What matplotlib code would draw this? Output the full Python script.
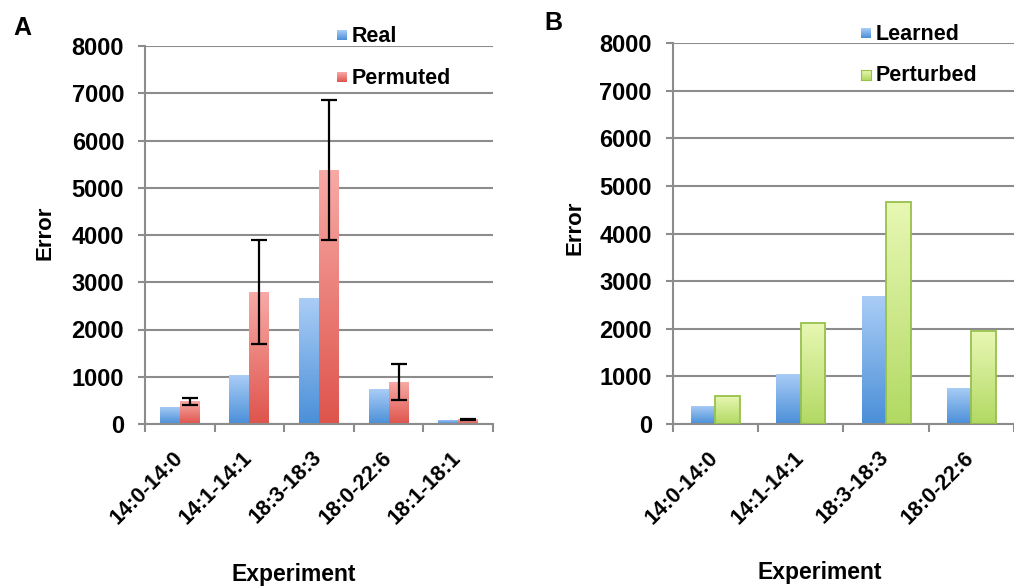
import numpy as np
import matplotlib
matplotlib.use("Agg")
from matplotlib import pyplot as plt
from matplotlib.colors import LinearSegmentedColormap

plt.rcParams['font.family'] = ['Liberation Sans', 'DejaVu Sans']
plt.rcParams['font.weight'] = 'bold'

# panel A data
experimentsA = ["14:0-14:0", "14:1-14:1", "18:3-18:3", "18:0-22:6", "18:1-18:1"]
real = [366, 1037, 2660, 734, 85]
permuted = [480, 2787, 5382, 882, 99]
permutedErr = [80, 1100, 1480, 380, 10]

# panel B data
experimentsB = ["14:0-14:0", "14:1-14:1", "18:3-18:3", "18:0-22:6"]
learned = [384, 1057, 2689, 763]
perturbed = [595, 2128, 4670, 1954]

yTicks = [0, 1000, 2000, 3000, 4000, 5000, 6000, 7000, 8000]

W, H = 1014, 586
GRAY = "#8c8c8c"
blueMap = LinearSegmentedColormap.from_list("blue", ["#4a8fd8", "#aacdf6"])
redMap = LinearSegmentedColormap.from_list("red", ["#de544c", "#f8aaa6"])
greenMap = LinearSegmentedColormap.from_list("green", ["#b2d963", "#e8f8b4"])


def gradientBars(ax, x, heights, width, cmap, edge="none"):
    bars = ax.bar(x, heights, width, color="none", edgecolor=edge,
                  linewidth=1.3 if edge != "none" else 0, zorder=3)
    grad = np.linspace(1, 0, 256).reshape(-1, 1)
    for b in bars:
        im = ax.imshow(grad, extent=[b.get_x(), b.get_x() + b.get_width(), 0, b.get_height()],
                       aspect="auto", cmap=cmap, vmin=0, vmax=1, origin="upper", zorder=2.5)
        im.set_clip_path(b)
    return bars


def styleAxis(ax, labels, xmax):
    ax.set_ylim(0, 8000)
    ax.set_xlim(-0.5, xmax)
    ax.set_yticks(yTicks)
    ax.set_yticklabels([str(v) for v in yTicks], fontsize=17, fontweight="bold")
    ax.tick_params(axis="y", length=5, width=1.5, color=GRAY, pad=10)
    ax.set_xticks(range(len(labels)))
    ax.set_xticklabels(labels, rotation=45, ha="right", va="center",
                       rotation_mode="anchor", fontsize=15.5, fontweight="bold")
    ax.tick_params(axis="x", which="major", length=0, pad=22)
    ax.set_xticks(np.arange(-0.5, len(labels) + 0.5, 1), minor=True)
    ax.tick_params(axis="x", which="minor", length=6, width=1.5, color=GRAY, direction="out")
    for s in ["top", "right"]:
        ax.spines[s].set_visible(False)
    for s in ["left", "bottom"]:
        ax.spines[s].set_color(GRAY)
        ax.spines[s].set_linewidth(1.5)
    ax.yaxis.grid(True, color=GRAY, linewidth=1.5)
    ax.set_axisbelow(True)


def px(x, y):
    return x / W, 1 - y / H


def legendItem(fig, cx, cy, cmap, edge, label):
    x0, y0 = px(cx - 5, cy + 5)
    ax = fig.add_axes([x0, y0, 10 / W, 10 / H])
    ax.imshow(np.linspace(1, 0, 64).reshape(-1, 1), aspect="auto", cmap=cmap,
              vmin=0, vmax=1, extent=[0, 1, 0, 1])
    ax.set_xticks([])
    ax.set_yticks([])
    for s in ax.spines.values():
        s.set_visible(edge != "none")
        s.set_color(edge)
    fig.text(*px(cx + 10, cy + 1), label, fontsize=15.5, fontweight="bold", va="center")


fig = plt.figure(figsize=(W / 100, H / 100), dpi=100)

# panel A
axA = fig.add_axes([145 / W, 1 - 424 / H, 348 / W, 378 / H])
w = 0.287
x = np.arange(len(experimentsA))
gradientBars(axA, x - w / 2, real, w, blueMap)
gradientBars(axA, x + w / 2, permuted, w, redMap)
axA.errorbar(x + w / 2, permuted, yerr=permutedErr, fmt="none", ecolor="black",
             elinewidth=1.6, capsize=5.5, capthick=1.6, zorder=4)
styleAxis(axA, experimentsA, 4.5)

# panel B
axB = fig.add_axes([672.7 / W, 1 - 424 / H, (W - 672.7) / W, (424 - 43.3) / H])
x = np.arange(len(experimentsB))
gradientBars(axB, x - w / 2, learned, w, blueMap)
gradientBars(axB, x + w / 2, perturbed, w, greenMap, edge="#97c04c")
styleAxis(axB, experimentsB, 3.4)

# labels
fig.text(*px(22, 28), "A", fontsize=18, fontweight="bold", ha="center", va="center")
fig.text(*px(553, 23), "B", fontsize=18, fontweight="bold", ha="center", va="center")
fig.text(*px(45, 233), "Error", fontsize=16, fontweight="bold", rotation=90, ha="center", va="center")
fig.text(*px(575, 228), "Error", fontsize=16, fontweight="bold", rotation=90, ha="center", va="center")
fig.text(*px(294, 575), "Experiment", fontsize=16.5, fontweight="bold", ha="center", va="center")
fig.text(*px(820, 572), "Experiment", fontsize=16.5, fontweight="bold", ha="center", va="center")

legendItem(fig, 342, 35, blueMap, "none", "Real")
legendItem(fig, 342, 77, redMap, "none", "Permuted")
legendItem(fig, 865.5, 33, blueMap, "none", "Learned")
legendItem(fig, 865.5, 75, greenMap, "#97c04c", "Perturbed")

fig.savefig("out.png", dpi=100)
